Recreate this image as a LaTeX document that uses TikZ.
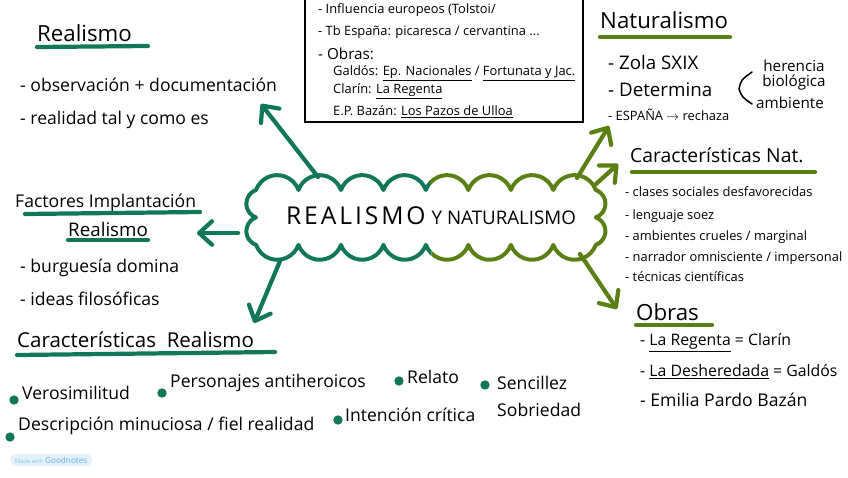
\documentclass[tikz,border=0pt]{standalone}
\usepackage{fontspec}
\setmainfont{Open Sans}
\usetikzlibrary{arrows.meta}
\definecolor{rgreen}{RGB}{16,120,88}
\definecolor{nolive}{RGB}{90,128,20}
\definecolor{gnblue}{RGB}{96,176,226}
\definecolor{gnback}{RGB}{228,243,251}

\tikzset{
  cloudp/.style={insert path={(256,190)
    \foreach \i in {1,...,8}{arc (200:340:22.6)}
    arc (-70:70:14.6) arc (-70:70:14.6)
    \foreach \i in {1,...,8}{arc (20:160:22.6)}
    arc (110:250:14.6) arc (110:250:14.6) -- cycle}}
}

\begin{document}
\begin{tikzpicture}[x=0.03cm, y=-0.03cm,
  ttl/.style={anchor=west, inner sep=0, font=\fontsize{19}{21}\selectfont},
  itm/.style={anchor=west, inner sep=0, font=\fontsize{15}{17}\selectfont},
  sml/.style={anchor=west, inner sep=0, font=\fontsize{11}{13}\selectfont},
  nat/.style={anchor=west, inner sep=0, font=\fontsize{11}{13}\selectfont},
  ulr/.style={line width=3.6pt, rgreen, line cap=round},
  uln/.style={line width=3.6pt, nolive, line cap=round},
  garr/.style={-{Straight Barb[length=11pt,width=20pt,round]}, line width=3.6pt, rgreen, line cap=round},
  narr/.style={garr, nolive},
  dot/.style={circle, fill=rgreen, inner sep=0, minimum size=8pt}
]
\useasboundingbox (0,0) rectangle (848,477);

% nube central, mitad verde y mitad oliva
\begin{scope}
  \clip (0,0) -- (426,0) -- (436,477) -- (0,477) -- cycle;
  \draw[rgreen, line width=3.4pt, line join=round, cloudp];
\end{scope}
\begin{scope}
  \clip (426,0) -- (848,0) -- (848,477) -- (436,477) -- cycle;
  \draw[nolive, line width=3.4pt, line join=round, cloudp];
\end{scope}
\node[inner sep=0] (core) at (431,216)
  {{\fontsize{21}{23}\selectfont\addfontfeature{LetterSpace=12}REALISMO}\ \ {\fontsize{16}{18}\selectfont Y NATURALISMO}};

% Realismo
\node[ttl] (realT) at (37,33) {Realismo};
\draw[ulr] (37,47) -- (148,46);
\node[itm] (real1) at (20,85) {- observación + documentación};
\node[itm] (real2) at (20,120) {- realidad tal y como es};

% recuadro
\draw[line width=1.2pt] (305,-5) rectangle (583,122);
\node[sml] (box1) at (318,10) {- Influencia europeos (Tolstoi/};
\node[sml] (box2) at (318,32) {- Tb España: picaresca / cervantina ...};
\node[sml, font=\fontsize{13}{15}\selectfont] (box3) at (318,54) {- Obras:};
\node[sml] (box4) at (333,73) {Galdós: \underline{Ep. Nacionales} / \underline{Fortunata y Jac.}};
\node[sml] (box5) at (333,91) {Clarín: \underline{La Regenta}};
\node[sml] (box6) at (333,112) {E.P. Bazán: \underline{Los Pazos de Ulloa}};

% Naturalismo
\node[ttl] (natT) at (600,20) {Naturalismo};
\draw[uln] (600,37) -- (730,37);
\node[itm, font=\fontsize{16}{18}\selectfont] (nat1) at (608,62) {- Zola SXIX};
\node[itm, font=\fontsize{16}{18}\selectfont] (nat2) at (608,90) {- Determina};
\node[sml] (nat3) at (608,115) {- ESPAÑA $\rightarrow$ rechaza};
\draw[line width=1.3pt, line cap=round] (752,72) .. controls (741,80) .. (739,89) .. controls (742,97) .. (752,104);
\node[inner sep=0, align=center, font=\fontsize{13}{13}\selectfont] (det1) at (794,75) {herencia\\biológica};
\node[inner sep=0, font=\fontsize{13}{15}\selectfont] (det2) at (790,103) {ambiente};

% Características Nat.
\node[ttl, font=\fontsize{16.5}{18}\selectfont] (carN) at (630,155) {Características Nat.};
\draw[uln] (632,172) -- (815,172);
\node[nat] (cn1) at (625,192) {- clases sociales desfavorecidas};
\node[nat] (cn2) at (625,216) {- lenguaje soez};
\node[nat] (cn3) at (625,237) {- ambientes crueles / marginal};
\node[nat] (cn4) at (625,258) {- narrador omnisciente / impersonal};
\node[nat] (cn5) at (625,277) {- técnicas científicas};

% Obras
\node[ttl] (obrT) at (636,312) {Obras};
\draw[uln] (636,325) -- (712,325);
\node[itm, font=\fontsize{13.5}{15}\selectfont] (ob1) at (640,343) {- \underline{La Regenta} = Clarín};
\node[itm, font=\fontsize{13.5}{15}\selectfont] (ob2) at (640,372) {- \underline{La Desheredada} = Galdós};
\node[itm] (ob3) at (640,400) {- Emilia Pardo Bazán};

% Factores
\node[ttl, font=\fontsize{15}{17}\selectfont] (facT) at (15,203) {Factores Implantación};
\draw[ulr] (25,214) -- (200,212);
\node[ttl, font=\fontsize{16}{18}\selectfont] (facR) at (68,229) {Realismo};
\draw[ulr] (68,240) -- (148,240);
\node[itm] (fac1) at (20,268) {- burguesía domina};
\node[itm] (fac2) at (20,299) {- ideas filosóficas};

% Características Realismo
\node[ttl, font=\fontsize{17.5}{20}\selectfont] (carR) at (17,340) {Características \ Realismo};
\draw[ulr] (17,355) -- (275,352);
\node[dot] (d1) at (14,400) {};
\node[itm] (cr1) at (22,393) {Verosimilitud};
\node[dot] (d2) at (162,393) {};
\node[itm] (cr2) at (170,383) {Personajes antiheroicos};
\node[dot] (d3) at (399,381) {};
\node[itm] (cr3) at (407,377) {Relato};
\node[dot] (d4) at (485,385) {};
\node[itm] (cr4) at (497,383) {Sencillez};
\node[dot] (d5) at (10,437) {};
\node[itm] (cr5) at (18,426) {Descripción minuciosa / fiel realidad};
\node[dot] (d6) at (338,420) {};
\node[itm] (cr6) at (345,415) {Intención crítica};
\node[itm] (cr7) at (497,410) {Sobriedad};

% flechas
\coordinate (a1s) at (318,177); \coordinate (a1e) at (261,104);
\coordinate (a2s) at (238,233); \coordinate (a2e) at (197,233);
\coordinate (a3s) at (280,261); \coordinate (a3e) at (254,323);
\coordinate (n1s) at (577,178); \coordinate (n1e) at (609,126);
\coordinate (n2s) at (596,184); \coordinate (n2e) at (618,164);
\coordinate (n3s) at (580,254); \coordinate (n3e) at (617,309);
\draw[garr] (a1s) -- (a1e);
\draw[garr] (a2s) -- (a2e);
\draw[garr] (a3s) -- (a3e);
\draw[narr] (n1s) -- (n1e);
\draw[narr] (n2s) -- (n2e);
\draw[narr] (n3s) -- (n3e);

% marca
\node[fill=gnback, rounded corners=5pt, inner xsep=4pt, inner ysep=2.5pt, anchor=west, font=\fontsize{5}{6}\selectfont] (gn) at (10,460)
  {\textcolor{gnblue!80}{Made with} {\fontsize{7}{8}\selectfont\textcolor{gnblue}{Goodnotes}}};
\end{tikzpicture}
\end{document}
